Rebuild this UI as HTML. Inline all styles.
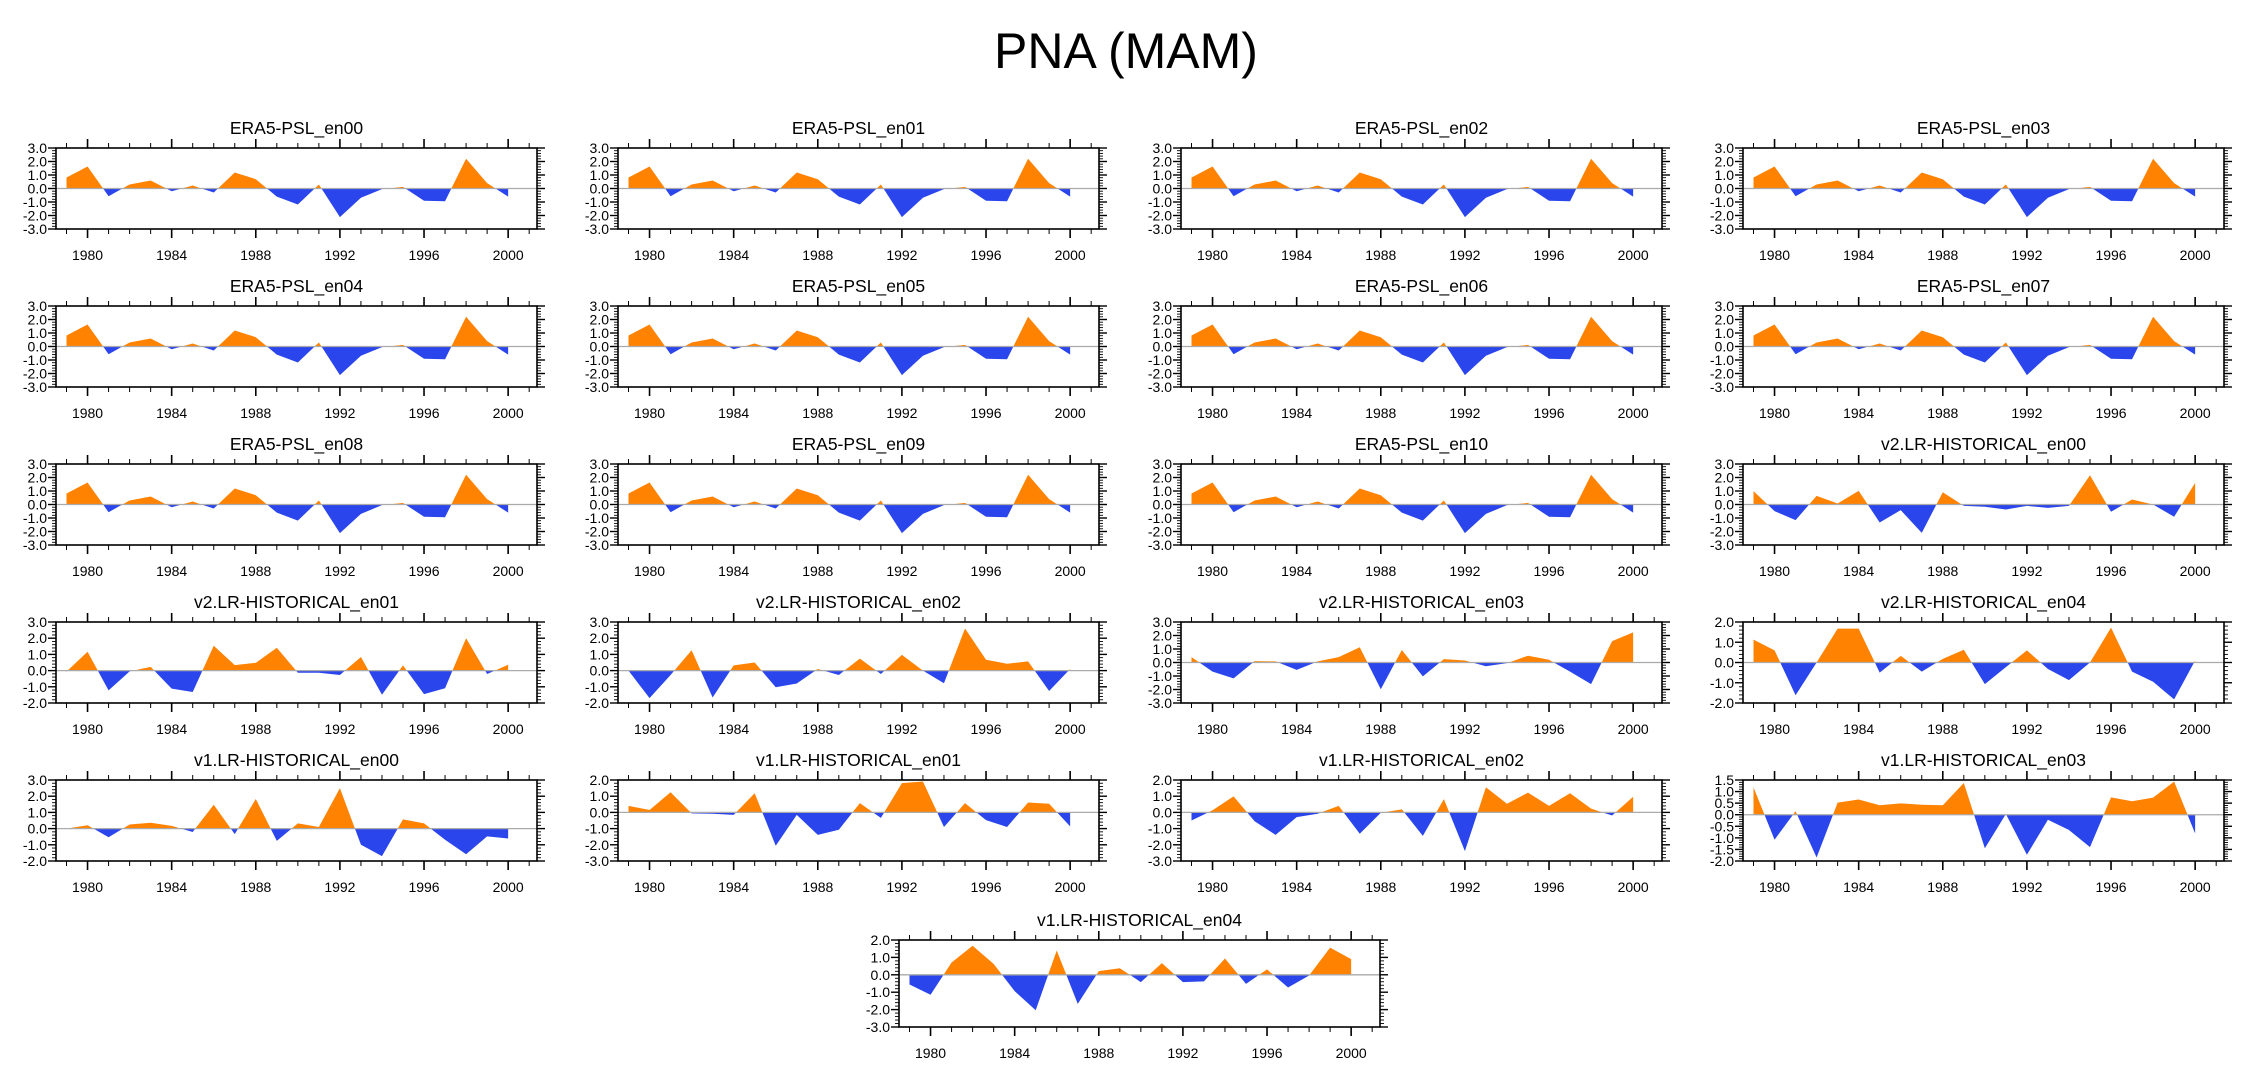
<!DOCTYPE html>
<html><head><meta charset="utf-8"><style>
html,body{margin:0;padding:0;background:#fff;}
svg{display:block;font-family:"Liberation Sans",Arial,sans-serif;}
</style></head><body>
<svg id="chart" width="2252" height="1078" viewBox="0 0 2252 1078" xmlns="http://www.w3.org/2000/svg">
<text x="1126" y="68" font-size="50" text-anchor="middle">PNA (MAM)</text>
</svg>
<script>
const years = [1979,1980,1981,1982,1983,1984,1985,1986,1987,1988,1989,1990,1991,1992,1993,1994,1995,1996,1997,1998,1999,2000];
const xTickLabels = ["1980","1984","1988","1992","1996","2000"];
const era5 = [0.81,1.63,-0.57,0.3,0.59,-0.2,0.22,-0.3,1.19,0.69,-0.6,-1.19,0.3,-2.12,-0.69,-0.05,0.12,-0.91,-0.94,2.2,0.4,-0.6];
const v2en00 = [0.99,-0.49,-1.16,0.64,0.07,1.01,-1.33,-0.42,-2.1,0.91,-0.1,-0.17,-0.37,-0.1,-0.25,-0.1,2.17,-0.54,0.37,0.0,-0.91,1.6];
const v2en01 = [-0.06,1.16,-1.22,-0.05,0.23,-1.11,-1.32,1.53,0.34,0.48,1.41,-0.13,-0.13,-0.27,0.84,-1.49,0.32,-1.45,-1.09,2.0,-0.21,0.36];
const v2en02 = [0.0,-1.7,-0.27,1.26,-1.66,0.32,0.5,-1.03,-0.8,0.1,-0.27,0.74,-0.21,0.97,0.0,-0.78,2.6,0.67,0.42,0.57,-1.26,0.1];
const v2en03 = [0.4,-0.68,-1.18,0.1,0.08,-0.55,0.08,0.4,1.13,-1.98,0.93,-1.03,0.25,0.15,-0.28,-0.05,0.5,0.2,-0.68,-1.6,1.58,2.23];
const v2en04 = [1.13,0.6,-1.62,0.0,1.67,1.67,-0.5,0.33,-0.45,0.18,0.63,-1.07,-0.23,0.6,-0.32,-0.87,0.0,1.72,-0.45,-0.95,-1.82,0.1];
const v1en00 = [0.0,0.21,-0.53,0.25,0.36,0.17,-0.21,1.47,-0.34,1.83,-0.76,0.32,0.1,2.5,-1.0,-1.7,0.57,0.32,-0.69,-1.58,-0.48,-0.61];
const v1en01 = [0.4,0.15,1.24,-0.06,-0.08,-0.15,1.18,-2.06,-0.15,-1.39,-1.07,0.57,-0.34,1.81,1.91,-0.9,0.57,-0.48,-0.9,0.61,0.53,-0.86];
const v1en02 = [-0.5,0.13,0.99,-0.55,-1.39,-0.29,-0.08,0.4,-1.32,-0.02,0.19,-1.45,0.82,-2.39,1.55,0.53,1.22,0.4,1.18,0.23,-0.19,0.97];
const v1en03 = [1.18,-1.08,0.15,-1.85,0.52,0.66,0.41,0.49,0.43,0.41,1.37,-1.45,0.03,-1.73,-0.22,-0.66,-1.4,0.75,0.58,0.74,1.43,-0.81];
const v1en04 = [-0.56,-1.15,0.71,1.67,0.63,-0.94,-2.04,1.4,-1.67,0.21,0.38,-0.42,0.67,-0.42,-0.38,0.94,-0.52,0.31,-0.73,-0.04,1.56,0.9];
const panelTitles = ["ERA5-PSL_en00","ERA5-PSL_en01","ERA5-PSL_en02","ERA5-PSL_en03","ERA5-PSL_en04","ERA5-PSL_en05","ERA5-PSL_en06","ERA5-PSL_en07","ERA5-PSL_en08","ERA5-PSL_en09","ERA5-PSL_en10","v2.LR-HISTORICAL_en00","v2.LR-HISTORICAL_en01","v2.LR-HISTORICAL_en02","v2.LR-HISTORICAL_en03","v2.LR-HISTORICAL_en04","v1.LR-HISTORICAL_en00","v1.LR-HISTORICAL_en01","v1.LR-HISTORICAL_en02","v1.LR-HISTORICAL_en03","v1.LR-HISTORICAL_en04"];
const panelSeries = [era5,era5,era5,era5,era5,era5,era5,era5,era5,era5,era5,v2en00,v2en01,v2en02,v2en03,v2en04,v1en00,v1en01,v1en02,v1en03,v1en04];
const yMins = [-3,-3,-3,-3,-3,-3,-3,-3,-3,-3,-3,-3,-2,-2,-3,-2,-2,-3,-3,-2,-3];
const yMaxs = [3,3,3,3,3,3,3,3,3,3,3,3,3,3,3,2,3,2,2,1.5,2];
const ySteps = [1,1,1,1,1,1,1,1,1,1,1,1,1,1,1,1,1,1,1,0.5,1];

const NS="http://www.w3.org/2000/svg";
const svg=document.getElementById('chart');
function mk(tag,attrs,parent){const e=document.createElementNS(NS,tag);for(const k in attrs)e.setAttribute(k,attrs[k]);(parent||svg).appendChild(e);return e;}
const ORANGE="#ff8200", BLUE="#2a45ec";
const lefts=[56,618,1181,1743];
const W=481, PX_PER_YEAR=21.03, X0=1978.5;

for(let p=0;p<panelTitles.length;p++){
  let L,T,H;
  if(p<20){L=lefts[p%4];T=148+158*Math.floor(p/4);H=81;}
  else{L=899;T=940;H=87;}
  const vals=panelSeries[p], ymin=yMins[p], ymax=yMaxs[p], step=ySteps[p];
  const g=mk('g',{});
  
  
  const xs=yr=>L+(yr-X0)*PX_PER_YEAR;
  const ys=v=>T+H-(v-ymin)/(ymax-ymin)*H;
  const t=mk('text',{x:L+W/2,y:T-14,'font-size':17.5,'text-anchor':'middle'},g);
  t.textContent=panelTitles[p];
  
  
  // clip paths
  const id='c'+p;
  const defs=mk('defs',{},g);
  const cpA=mk('clipPath',{id:id+'a'},defs);
  mk('rect',{x:L,y:T,width:W,height:ys(0)-T},cpA);
  const cpB=mk('clipPath',{id:id+'b'},defs);
  mk('rect',{x:L,y:ys(0),width:W,height:T+H-ys(0)},cpB);
  let d='M'+xs(years[0])+','+ys(0);
  for(let i=0;i<years.length;i++)d+=' L'+xs(years[i]).toFixed(2)+','+ys(vals[i]).toFixed(2);
  d+=' L'+xs(years[years.length-1])+','+ys(0)+' Z';
  const pa=mk('path',{d:d,fill:ORANGE,'clip-path':'url(#'+id+'a)'},g);
  
  
  const pb=mk('path',{d:d,fill:BLUE,'clip-path':'url(#'+id+'b)'},g);
  
  
  const zl=mk('line',{x1:L,x2:L+W,y1:ys(0),y2:ys(0),stroke:'#aaaaaa','stroke-width':1.3},g);
  
  
  const fr=mk('rect',{x:L,y:T,width:W,height:H,fill:'none',stroke:'#000','stroke-width':1.6},g);
  
  
  // x ticks
  for(let yr=1979;yr<=2001;yr++){
    const x=xs(yr), major=(yr%4===0), len=major?9:5;
    mk('line',{x1:x,x2:x,y1:T+H,y2:T+H+len,stroke:'#000','stroke-width':major?1.6:1},g);
    mk('line',{x1:x,x2:x,y1:T,y2:T-len,stroke:'#000','stroke-width':major?1.6:1},g);
  }
  for(let k=0;k<xTickLabels.length;k++){
    const yr=parseInt(xTickLabels[k]);
    const tl=mk('text',{x:xs(yr),y:T+H+31,'font-size':14,'text-anchor':'middle'},g);
    tl.textContent=xTickLabels[k];
    
    
  }
  // y ticks
  const minor=step/5;
  const n=Math.round((ymax-ymin)/minor);
  for(let k=0;k<=n;k++){
    const v=ymin+k*minor, y=ys(v), major=(k%5===0), len=major?8:4;
    mk('line',{x1:L,x2:L-len,y1:y,y2:y,stroke:'#000','stroke-width':major?1.4:0.9},g);
    mk('line',{x1:L+W,x2:L+W+len,y1:y,y2:y,stroke:'#000','stroke-width':major?1.4:0.9},g);
    if(major){
      const yl=mk('text',{x:L-9,y:y+5,'font-size':14,'text-anchor':'end'},g);
      yl.textContent=v.toFixed(1);
      
      
    }
  }
}
</script>
</body></html>
